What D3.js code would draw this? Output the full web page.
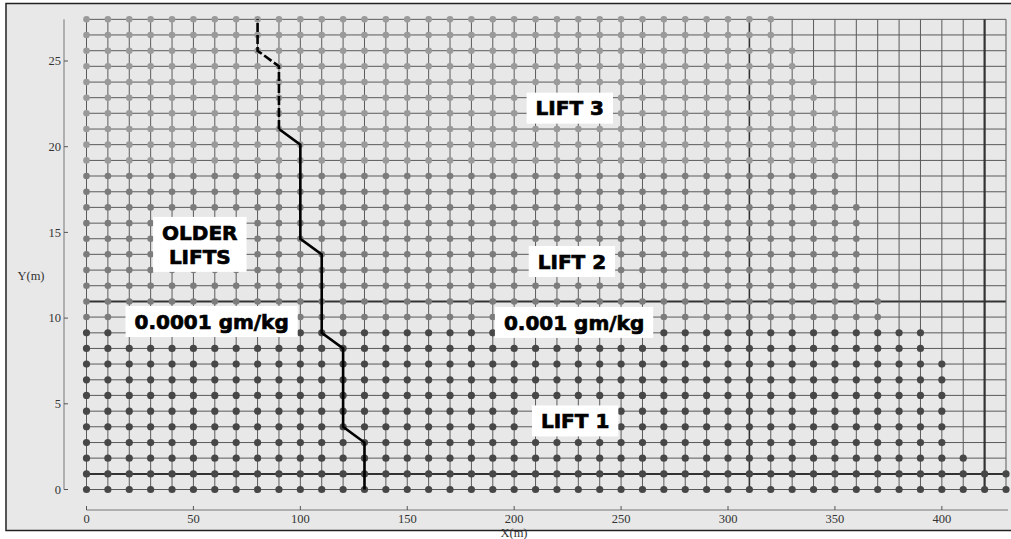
<!DOCTYPE html>
<html>
<head>
<meta charset="utf-8">
<script src="https://cdn.jsdelivr.net/npm/d3@7"></script>
<style>
  body { margin: 0; background: #fff; }
  svg { display: block; }
  .tick-label { font-family: "Liberation Serif", serif; font-size: 12.5px; fill: #333; }
  .note { font-family: "DejaVu Sans", sans-serif; font-weight: bold; font-size: 20px; fill: #000; stroke: #000; stroke-width: 0.7px; }
</style>
</head>
<body>
<div id="chart"></div>
<script>
// mesh columns (m)
const colX = [0, 10, 20, 30, 40, 50, 60, 70, 80, 90, 100, 110, 120, 130, 140, 150, 160, 170, 180, 190,
  200, 210, 220, 230, 240, 250, 260, 270, 280, 290, 300, 310, 320, 330, 340, 350, 360, 370, 380, 390,
  400, 410, 420, 430];
// mesh rows (m), 3 ft layers
const rowY = [0, 0.91, 1.83, 2.74, 3.66, 4.57, 5.49, 6.40, 7.32, 8.23, 9.14, 10.06, 10.97, 11.89, 12.80,
  13.72, 14.63, 15.54, 16.46, 17.37, 18.29, 19.20, 20.12, 21.03, 21.95, 22.86, 23.77, 24.69, 25.60,
  26.52, 27.43];
// furthest node with a dot on each row
const rowMaxX = [430, 430, 410, 400, 400, 400, 400, 400, 400, 390, 390, 370, 370, 360, 360, 360, 360,
  360, 360, 350, 350, 350, 350, 350, 350, 340, 340, 330, 330, 320, 320];
// lift of each row
const rowLift = [1, 1, 1, 1, 1, 1, 1, 1, 1, 1, 1, 2, 2, 2, 2, 2, 2, 2, 2, 2, 2, 3, 3, 3, 3, 3, 3, 3, 3, 3, 3];

// older lifts / new lifts boundary
const edgeX = [130, 130, 120, 120, 110, 110, 100, 100, 90, 90, 80, 80];
const edgeY = [0, 2.74, 3.66, 8.23, 9.14, 13.72, 14.63, 20.12, 21.03, 24.69, 25.60, 27.43];
const dashFrom = 8;

const xTicks = [0, 50, 100, 150, 200, 250, 300, 350, 400];
const yTicks = [0, 5, 10, 15, 20, 25];

const notes = [
  { lines: ["LIFT 3"], x: 226, y: 22.25 },
  { lines: ["LIFT 2"], x: 227, y: 13.3 },
  { lines: ["OLDER", "LIFTS"], x: 53, y: 14.3 },
  { lines: ["0.0001 gm/kg"], x: 58.5, y: 9.8 },
  { lines: ["0.001 gm/kg"], x: 228, y: 9.75 },
  { lines: ["LIFT 1"], x: 228.5, y: 4.0 }
];

const width = 1011, height = 539;
const svg = d3.select("#chart").append("svg")
  .attr("width", width)
  .attr("height", height);

svg.append("rect")
  .attr("x", 6).attr("y", 3.5)
  .attr("width", 1030).attr("height", 527)
  .attr("fill", "#e8e8e8")
  .attr("stroke", "#222")
  .attr("stroke-width", 1.5);

const x = d3.scaleLinear().domain([0, 430]).range([86.5, 1006]);
const y = d3.scaleLinear().domain([0, 25]).range([489.5, 61]);

const yTop = rowY[rowY.length - 1];

// grid
const grid = svg.append("g");
grid.selectAll("line.h")
  .data(rowY)
  .enter().append("line")
  .attr("class", "h")
  .attr("x1", x(0)).attr("x2", x(430))
  .attr("y1", d => y(d)).attr("y2", d => y(d))
  .attr("stroke", (d, i) => (i === 1 || i === 12) ? "#333" : "#5a5a5a")
  .attr("stroke-width", (d, i) => (i === 1 || i === 12) ? 2 : 1);

grid.selectAll("line.v")
  .data(colX)
  .enter().append("line")
  .attr("class", "v")
  .attr("y1", y(0)).attr("y2", y(yTop))
  .attr("x1", d => x(d)).attr("x2", d => x(d))
  .attr("stroke", d => (d === 420 || d === 310) ? "#333" : "#5a5a5a")
  .attr("stroke-width", d => d === 420 ? 2.2 : (d === 310 ? 1.6 : 1));

// nodes
const liftColor = { 1: "#474747", 2: "#7c7c7c", 3: "#9a9a9a" };
const liftR = { 1: 3.6, 2: 3.3, 3: 3.3 };
const nodes = [];
rowY.forEach((ry, i) => {
  colX.forEach(cx => {
    if (cx <= rowMaxX[i]) nodes.push({ x: cx, y: ry, lift: rowLift[i] });
  });
});

svg.append("g").selectAll("circle")
  .data(nodes)
  .enter().append("circle")
  .attr("cx", d => x(d.x))
  .attr("cy", d => y(d.y))
  .attr("r", d => liftR[d.lift])
  .attr("fill", d => liftColor[d.lift]);

// boundary line
const edge = edgeX.map((v, i) => [v, edgeY[i]]);
const line = d3.line().x(d => x(d[0])).y(d => y(d[1]));

svg.append("path")
  .datum(edge.slice(0, dashFrom + 1))
  .attr("d", line)
  .attr("fill", "none")
  .attr("stroke", "#000")
  .attr("stroke-width", 2.6);

svg.append("path")
  .datum(edge.slice(dashFrom))
  .attr("d", line)
  .attr("fill", "none")
  .attr("stroke", "#000")
  .attr("stroke-width", 2.6)
  .attr("stroke-dasharray", "9,3");

// y axis
const yAxis = svg.append("g").attr("transform", "translate(64,0)");
yAxis.append("line")
  .attr("x1", 0).attr("x2", 0)
  .attr("y1", y(yTop)).attr("y2", y(0))
  .attr("stroke", "#777").attr("stroke-width", 1);
yAxis.selectAll("line.tk")
  .data(yTicks)
  .enter().append("line")
  .attr("class", "tk")
  .attr("x1", 0).attr("x2", 4)
  .attr("y1", d => y(d)).attr("y2", d => y(d))
  .attr("stroke", "#555");
yAxis.selectAll("text")
  .data(yTicks)
  .enter().append("text")
  .attr("class", "tick-label")
  .attr("x", -3)
  .attr("y", d => y(d))
  .attr("dy", "0.35em")
  .attr("text-anchor", "end")
  .text(d => d);

svg.append("text")
  .attr("class", "tick-label")
  .attr("x", 31).attr("y", 280)
  .attr("text-anchor", "middle")
  .text("Y(m)");

// x axis
const xAxis = svg.append("g").attr("transform", "translate(0,510)");
xAxis.append("line")
  .attr("x1", x(0)).attr("x2", 1008)
  .attr("y1", 0).attr("y2", 0)
  .attr("stroke", "#777").attr("stroke-width", 1);
xAxis.selectAll("line.tk")
  .data(xTicks)
  .enter().append("line")
  .attr("class", "tk")
  .attr("x1", d => x(d)).attr("x2", d => x(d))
  .attr("y1", 0).attr("y2", -4)
  .attr("stroke", "#555");
xAxis.selectAll("text")
  .data(xTicks)
  .enter().append("text")
  .attr("class", "tick-label")
  .attr("x", d => x(d))
  .attr("y", 13)
  .attr("text-anchor", "middle")
  .text(d => d);

svg.append("text")
  .attr("class", "tick-label")
  .attr("x", 514).attr("y", 537)
  .attr("text-anchor", "middle")
  .text("X(m)");

// annotation boxes
const lineH = 24;
notes.forEach(n => {
  const g = svg.append("g");
  const cx = x(n.x), cy = y(n.y);
  const rect = g.append("rect").attr("fill", "#fff");
  const t = g.append("text")
    .attr("class", "note")
    .attr("text-anchor", "middle");
  n.lines.forEach((s, i) => {
    t.append("tspan")
      .attr("x", cx)
      .attr("y", cy + (i - (n.lines.length - 1) / 2) * lineH)
      .attr("dy", "0.36em")
      .text(s);
  });
  const b = t.node().getBBox();
  const h = n.lines.length * lineH + 7;
  rect.attr("x", b.x - 9).attr("width", b.width + 18)
    .attr("y", cy - h / 2).attr("height", h);
});
</script>
</body>
</html>
